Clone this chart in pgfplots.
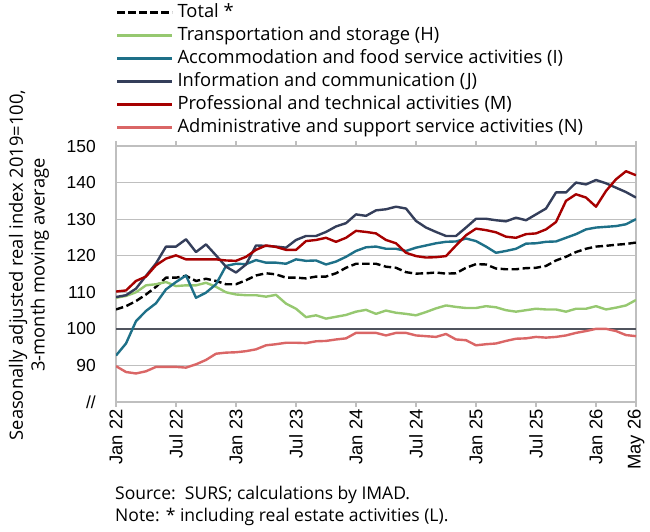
\documentclass[border=0pt]{standalone}
\usepackage{pgfplots}
\pgfplotsset{compat=1.18}
\usepackage{pgfplotstable}
\usepackage{fontspec}
\setmainfont{Open Sans}
\newfontfamily\tickfont{Liberation Sans}
\definecolor{cTra}{RGB}{150,200,112}
\definecolor{cAcc}{RGB}{30,112,136}
\definecolor{cInf}{RGB}{52,62,90}
\definecolor{cPro}{RGB}{166,0,0}
\definecolor{cAdm}{RGB}{218,102,102}
\definecolor{gridgray}{RGB}{191,191,191}
\definecolor{hundred}{RGB}{80,84,94}
\pgfplotstableread{
m tot tra acc inf pro adm
0 105.3 108.5 92.7 108.7 110.2 89.8
1 106.2 109.0 96.0 109.2 110.5 88.2
2 107.6 110.0 102.1 111.0 113.1 87.8
3 109.4 111.9 104.9 114.5 114.3 88.4
4 111.5 112.2 107.0 117.9 117.4 89.6
5 114.0 112.8 110.8 122.5 119.2 89.6
6 114.0 111.7 112.8 122.5 120.1 89.6
7 114.5 111.9 114.6 124.5 119.0 89.4
8 113.1 111.9 108.5 121.0 119.0 90.3
9 113.7 112.6 109.9 123.1 119.0 91.5
10 113.1 111.5 112.2 120.1 119.0 93.2
11 112.2 110.0 117.2 117.0 118.7 93.5
12 112.2 109.4 117.8 115.4 118.6 93.6
13 113.3 109.2 117.7 117.6 119.7 93.9
14 114.6 109.2 118.8 122.8 121.6 94.4
15 115.2 108.8 118.1 122.7 122.8 95.5
16 114.9 109.3 118.1 122.5 122.4 95.8
17 114.0 106.9 117.8 122.2 121.6 96.2
18 114.0 105.5 119.0 124.3 121.6 96.2
19 113.8 103.2 118.6 125.4 124.0 96.1
20 114.3 103.7 118.7 125.4 124.3 96.6
21 114.3 102.8 117.6 126.5 124.9 96.7
22 115.2 103.3 118.4 128.0 123.8 97.1
23 116.7 103.8 119.7 128.9 124.9 97.4
24 117.8 104.7 121.3 131.3 126.8 98.9
25 117.8 105.2 122.3 130.9 126.5 98.9
26 117.8 104.1 122.5 132.4 126.1 98.9
27 117.0 105.0 121.9 132.7 124.3 98.2
28 116.7 104.4 121.9 133.4 123.4 98.9
29 115.5 104.1 121.3 132.9 120.8 98.9
30 115.1 103.7 122.2 129.5 119.9 98.2
31 115.2 104.6 122.8 127.7 119.5 98.0
32 115.4 105.6 123.4 126.5 119.6 97.8
33 115.1 106.4 123.8 125.4 119.9 98.6
34 115.2 106.0 123.9 125.4 122.8 97.1
35 116.7 105.7 124.7 127.7 125.6 96.9
36 117.7 105.7 124.0 130.1 127.4 95.5
37 117.6 106.2 122.5 130.1 127.0 95.8
38 116.5 105.9 120.8 129.7 126.4 96.0
39 116.3 105.1 121.3 129.4 125.2 96.7
40 116.3 104.7 121.9 130.4 124.9 97.3
41 116.6 105.1 123.3 129.7 125.9 97.4
42 116.7 105.5 123.4 131.3 126.1 97.8
43 117.2 105.3 123.8 132.9 127.2 97.6
44 118.7 105.3 123.9 137.3 129.2 97.8
45 119.7 104.7 124.9 137.3 135.0 98.2
46 121.0 105.5 125.9 140.0 136.8 98.9
47 121.9 105.5 127.2 139.5 135.9 99.4
48 122.5 106.2 127.7 140.7 133.4 100.0
49 122.7 105.3 127.9 139.8 137.7 100.0
50 123.0 105.8 128.1 138.6 140.9 99.4
51 123.2 106.4 128.6 137.4 143.1 98.3
52 123.6 107.9 130.0 135.9 142.0 98.0
}\data

\begin{document}
\begin{tikzpicture}[font=\fontsize{18.4}{22}\selectfont]
\useasboundingbox (0,0) rectangle (650bp,532bp);
\begin{axis}[
  at={(116bp,130bp)}, anchor=south west,
  scale only axis, width=520bp, height=256bp,
  xmin=0, xmax=52, ymin=80, ymax=150,
  xtick={0,6,12,18,24,30,36,42,48,52},
  xticklabels={Jan 22,Jul 22,Jan 23,Jul 23,Jan 24,Jul 24,Jan 25,Jul 25,Jan 26,May 26},
  x tick label style={rotate=90, anchor=east, inner sep=2bp, font=\tickfont\fontsize{18.5}{20}\selectfont},
  ytick={80,90,100,110,120,130,140,150},
  yticklabels={//,90,100,110,120,130,140,150},
  y tick label style={inner sep=2bp, xshift=-13bp, font=\tickfont\fontsize{17.5}{20}\selectfont},
  /pgf/number format/assume math mode=true,
  ymajorgrids, grid style={color=gridgray, line width=1.2bp},
  extra y ticks={100}, extra y tick labels={},
  extra y tick style={grid style={color=hundred, line width=1.5bp}, major tick length=0pt},
  axis line style={gridgray, line width=1.2bp},
  tick align=outside, major tick length=5bp,
  xtick style={gridgray, line width=1.2bp},
  ytick style={draw=none},
  legend cell align=left,
  legend style={at={(0,1)}, anchor=south west, xshift=0bp, yshift=9.5bp,
    draw=none, fill=none, inner sep=0pt, row sep=5bp, column sep=4bp,
    nodes={inner sep=0pt, text height=14bp, text depth=4bp}},
  legend image code/.code={\draw[#1] (0bp,0bp) -- (55bp,0bp);},
  every axis plot/.append style={line width=2.4bp, line join=round},
]
\addplot[black, dash pattern=on 7.5bp off 3.5bp] table[x=m, y=tot] {\data};
\addlegendentry{Total *}
\addplot[cTra] table[x=m, y=tra] {\data};
\addlegendentry{Transportation and storage (H)}
\addplot[cAcc] table[x=m, y=acc] {\data};
\addlegendentry{Accommodation and food service activities (I)}
\addplot[cInf] table[x=m, y=inf] {\data};
\addlegendentry{Information and communication (J)}
\addplot[cPro] table[x=m, y=pro] {\data};
\addlegendentry{Professional and technical activities (M)}
\addplot[cAdm] table[x=m, y=adm] {\data};
\addlegendentry{Administrative and support service activities (N)}
\end{axis}
\node[rotate=90, align=center] at (29bp,267bp) {Seasonally adjusted real index 2019=100,\\3-month moving average};
\node[anchor=west, inner sep=0pt, font=\fontsize{17.6}{21}\selectfont] at (115bp,37bp) {Source:\ \ SURS; calculations by IMAD.};
\node[anchor=west, inner sep=0pt, font=\fontsize{17.6}{21}\selectfont] at (115bp,15bp) {Note: * including real estate activities (L).};
\end{tikzpicture}
\end{document}
